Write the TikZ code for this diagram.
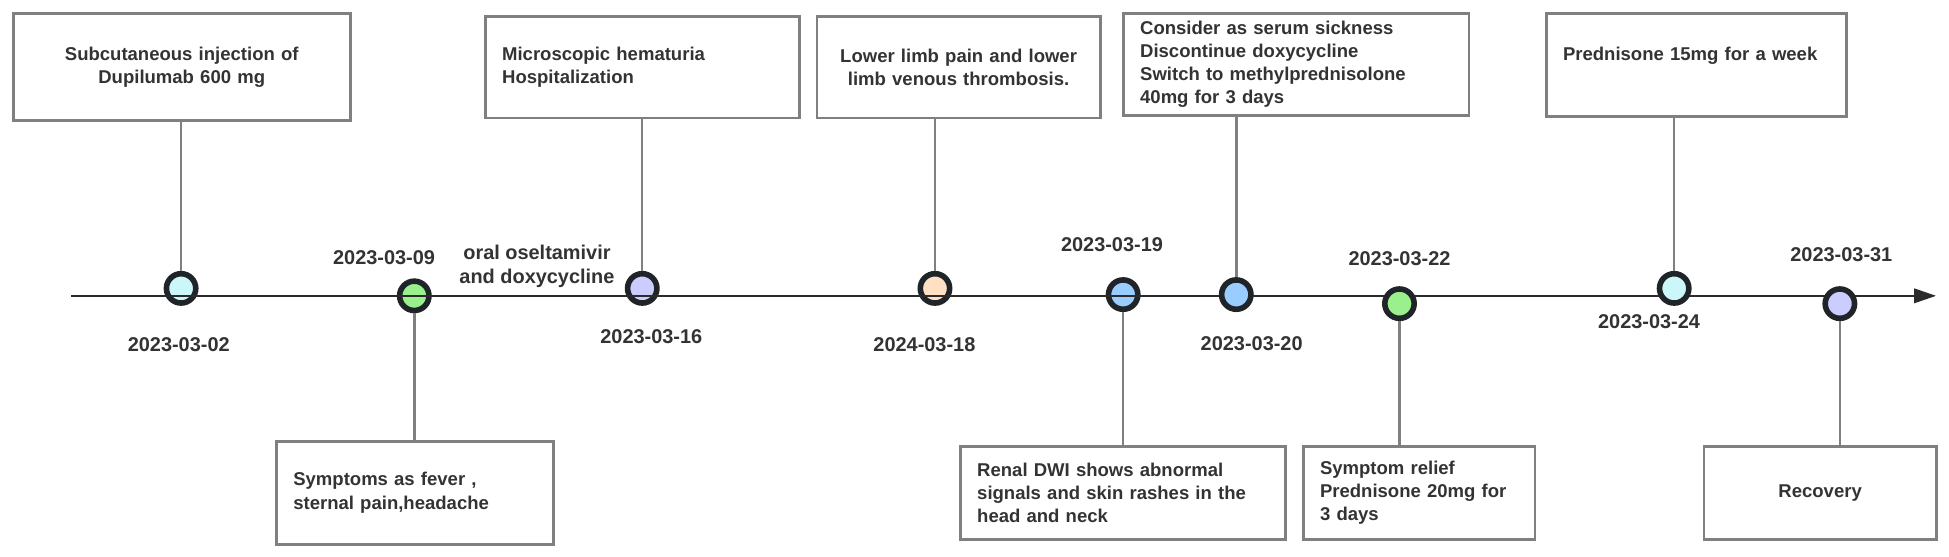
\documentclass[tikz,border=0pt]{standalone}
\usepackage{fontspec}
\setmainfont{Liberation Sans}
\usepackage{tikz}
\usetikzlibrary{arrows.meta}
\pgfdeclarelayer{bg}
\pgfsetlayers{bg,main}
\definecolor{boxgray}{RGB}{128,128,128}
\definecolor{txtgray}{RGB}{51,51,51}
\definecolor{axisgray}{RGB}{43,43,43}
\definecolor{dotrim}{RGB}{31,36,40}
\definecolor{dotcyan}{RGB}{204,247,250}
\definecolor{dotgreen}{RGB}{153,240,140}
\definecolor{dotlav}{RGB}{204,204,255}
\definecolor{dotpeach}{RGB}{255,224,194}
\definecolor{dotblue}{RGB}{153,204,255}
\tikzset{
    every node/.style={text=txtgray, font=\bfseries},
    evbox/.style={rectangle, draw=boxgray, line width=1.6pt, inner xsep=0.333cm, inner ysep=0pt,
        font=\fontsize{10.6}{13.2}\selectfont\bfseries},
    dot/.style={circle, draw=dotrim, line width=3.2pt, minimum size=0.59cm, inner sep=0mm},
    date/.style={font=\fontsize{11.4}{13.8}\selectfont\bfseries, inner sep=0pt},
    stem/.style={draw=boxgray, line width=1.4pt},
    axis/.style={draw=axisgray, line width=1.2pt, -{Triangle[length=0.44cm, width=0.29cm]}}
}

\begin{document}
\begin{tikzpicture}[x=0.025cm, y=-0.025cm]
    \useasboundingbox (0,0) rectangle (1568,448);

    % event boxes
    \node (b1) [evbox, text width=6.11cm, align=center, minimum height=2.16cm] at (146.2, 53.9) {Subcutaneous injection of\\Dupilumab 600 mg};
    \node (b2) [evbox, text width=4.90cm, align=left, minimum height=2.07cm] at (334.0, 396.4) {Symptoms as fever ,\\sternal pain,headache};
    \node (b3) [evbox, text width=5.64cm, align=left, minimum height=2.05cm] at (516.8, 54.0) {Microscopic hematuria\\Hospitalization};
    \node (b4) [evbox, text width=5.03cm, align=center, minimum height=2.05cm] at (771.2, 54.0) {Lower limb pain and lower\\limb venous thrombosis.};
    \node (b5) [evbox, text width=5.86cm, align=left, minimum height=1.86cm] at (903.4, 396.6) {Renal DWI shows abnormal\\signals and skin rashes in the\\head and neck};
    \node (b6) [evbox, text width=6.28cm, align=left, minimum height=2.05cm] at (1042.9, 51.9) {Consider as serum sickness\\Discontinue doxycycline\\Switch to methylprednisolone\\40mg for 3 days};
    \node (b7) [evbox, text width=3.99cm, align=left, minimum height=1.86cm] at (1141.8, 396.6) {Symptom relief\\Prednisone 20mg for\\3 days};
    \node (b8) [evbox, text width=5.36cm, align=left, minimum height=2.06cm] at (1364.7, 52.2) {Prednisone 15mg for a week\\~};
    \node (b9) [evbox, text width=4.00cm, align=center, minimum height=1.86cm] at (1464.3, 396.6) {Recovery};

    % dates
    \node (t1) [date] at (143.8, 277.0) {2023-03-02};
    \node (t2) [date] at (309.0, 207.0) {2023-03-09};
    \node (t3) [date] at (524.0, 271.0) {2023-03-16};
    \node (t4) [date] at (743.7, 277.0) {2024-03-18};
    \node (t5) [date] at (894.6, 196.6) {2023-03-19};
    \node (t6) [date] at (1007.0, 276.6) {2023-03-20};
    \node (t7) [date] at (1125.9, 207.7) {2023-03-22};
    \node (t8) [date] at (1326.7, 258.6) {2023-03-24};
    \node (t9) [date] at (1481.4, 205.1) {2023-03-31};

    \node (drug) [date, align=center] at (432.0, 214.0) {oral oseltamivir\\and doxycycline};

    \begin{pgfonlayer}{bg}
        \node (c1) [dot, fill=dotcyan] at (145.7, 232.0) {};
        \node (c2) [dot, fill=dotgreen] at (333.3, 238.0) {};
        \node (c3) [dot, fill=dotlav] at (516.7, 232.0) {};
        \node (c4) [dot, fill=dotpeach] at (752.2, 232.0) {};
        \node (c5) [dot, fill=dotblue] at (903.6, 237.0) {};
    \end{pgfonlayer}

    \coordinate (tstart) at (57.3, 238.0);
    \coordinate (tend) at (1557.6, 238.0);
    \draw[axis] (tstart) -- (tend);

    \node (c6) [dot, fill=dotblue] at (994.6, 237.0) {};
    \node (c7) [dot, fill=dotgreen] at (1125.9, 244.3) {};
    \node (c8) [dot, fill=dotcyan] at (1346.9, 232.0) {};
    \node (c9) [dot, fill=dotlav] at (1480.2, 244.3) {};

    \draw[stem] (c1) -- (b1.south -| c1);
    \draw[stem] (c2) -- (b2.north -| c2);
    \draw[stem] (c3) -- (b3.south -| c3);
    \draw[stem] (c4) -- (b4.south -| c4);
    \draw[stem] (c5) -- (b5.north -| c5);
    \draw[stem] (c6) -- (b6.south -| c6);
    \draw[stem] (c7) -- (b7.north -| c7);
    \draw[stem] (c8) -- (b8.south -| c8);
    \draw[stem] (c9) -- (b9.north -| c9);
\end{tikzpicture}
\end{document}
